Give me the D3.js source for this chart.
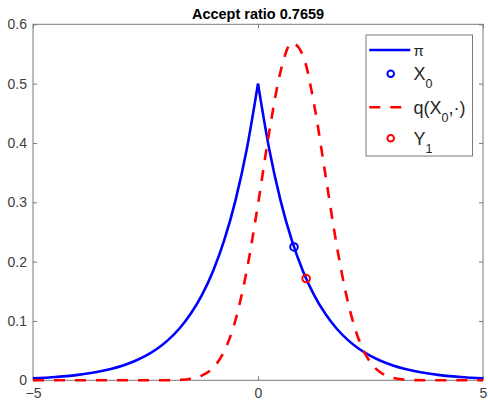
<!DOCTYPE html>
<html>
<head>
<meta charset="utf-8">
<script src="https://cdn.jsdelivr.net/npm/d3@7"></script>
<style>
  body { margin: 0; background: #fff; }
  svg { display: block; font-family: "Liberation Sans", Arial, sans-serif; }
  .axis text { fill: #404040; font-size: 14px; }
  .axis line { stroke: #7a7a7a; }
</style>
</head>
<body>
<svg width="488" height="401"></svg>
<script>
// values
var xs = [-5, -4.75, -4.5, -4.25, -4, -3.75, -3.5, -3.25, -3, -2.75, -2.5, -2.25,
          -2, -1.75, -1.5, -1.25, -1, -0.75, -0.5, -0.25, 0, 0.25, 0.5, 0.75,
          1, 1.25, 1.5, 1.75, 2, 2.25, 2.5, 2.75, 3, 3.25, 3.5, 3.75,
          4, 4.25, 4.5, 4.75, 5];
var piVals = [0.0034, 0.0043, 0.0056, 0.0071, 0.0092, 0.0118, 0.0151, 0.0194, 0.0249, 0.0320, 0.0410, 0.0527,
              0.0677, 0.0869, 0.1116, 0.1433, 0.1839, 0.2362, 0.3033, 0.3894, 0.5, 0.3894, 0.3033, 0.2362,
              0.1839, 0.1433, 0.1116, 0.0869, 0.0677, 0.0527, 0.0410, 0.0320, 0.0249, 0.0194, 0.0151, 0.0118,
              0.0092, 0.0071, 0.0056, 0.0043, 0.0034];
var qVals = [0, 0, 0, 0, 0, 0, 0, 0, 0, 0, 0, 0,
             0.0002, 0.0007, 0.0026, 0.0078, 0.0209, 0.0491, 0.1016, 0.1851, 0.2966, 0.4186, 0.5200, 0.5686,
             0.5472, 0.4636, 0.3457, 0.2270, 0.1312, 0.0667, 0.0299, 0.0118, 0.0041, 0.0012, 0.0003, 0,
             0, 0, 0, 0, 0];
var x0 = [0.8], x0Val = [0.2247];
var y1 = [1.07], y1Val = [0.1715];
var xTicks = [-5, 0, 5];
var yTicks = [0, 0.1, 0.2, 0.3, 0.4, 0.5, 0.6];
var title = "Accept ratio 0.7659";

var margin = {top: 24.3, right: 5, bottom: 20.7, left: 33},
    width = 488 - margin.left - margin.right,
    height = 401 - margin.top - margin.bottom;

var svg = d3.select("svg");
var g = svg.append("g").attr("transform", "translate(" + margin.left + "," + margin.top + ")");

var xScale = d3.scaleLinear().domain([-5, 5]).range([0, width]);
var yScale = d3.scaleLinear().domain([0, 0.6]).range([height, 0]);

// axes, ticks pointing inward
g.append("g").attr("class", "axis")
    .attr("transform", "translate(0," + height + ")")
    .call(d3.axisBottom(xScale).tickValues(xTicks).tickSize(-4).tickPadding(8).tickFormat(d3.format("d")));
g.append("g").attr("class", "axis")
    .call(d3.axisLeft(yScale).tickValues(yTicks).tickSize(-4).tickPadding(6)
        .tickFormat(function (d) { return d === 0 ? "0" : d3.format(".1f")(d); }));
g.append("g").attr("class", "axis")
    .call(d3.axisTop(xScale).tickValues(xTicks).tickSize(-4).tickFormat(""));
g.append("g").attr("class", "axis")
    .attr("transform", "translate(" + width + ",0)")
    .call(d3.axisRight(yScale).tickValues(yTicks).tickSize(-4).tickFormat(""));
g.selectAll(".axis .domain").remove();
g.append("rect")
    .attr("width", width).attr("height", height)
    .attr("fill", "none").attr("stroke", "#7a7a7a").attr("stroke-width", 1);

var pts = xs.map(function (x, i) { return {x: x, pi: piVals[i], q: qVals[i]}; });

var piLine = d3.line()
    .x(function (d) { return xScale(d.x); })
    .y(function (d) { return yScale(d.pi); })
    .curve(d3.curveMonotoneX);
var qLine = d3.line()
    .x(function (d) { return xScale(d.x); })
    .y(function (d) { return yScale(d.q); })
    .curve(d3.curveMonotoneX);

// pi has a kink at 0, so draw the two halves separately
[pts.filter(function (d) { return d.x <= 0; }), pts.filter(function (d) { return d.x >= 0; })]
    .forEach(function (half) {
        g.append("path").datum(half)
            .attr("d", piLine)
            .attr("fill", "none").attr("stroke", "#0000ff").attr("stroke-width", 2.6);
    });

g.selectAll(".x0").data(x0).enter().append("circle")
    .attr("cx", function (d) { return xScale(d); })
    .attr("cy", function (d, i) { return yScale(x0Val[i]); })
    .attr("r", 3.8).attr("fill", "none").attr("stroke", "#0000ff").attr("stroke-width", 2);

g.append("path").datum(pts)
    .attr("d", qLine)
    .attr("fill", "none").attr("stroke", "#ff0000").attr("stroke-width", 2.6)
    .attr("stroke-dasharray", "11,10");

g.selectAll(".y1").data(y1).enter().append("circle")
    .attr("cx", function (d) { return xScale(d); })
    .attr("cy", function (d, i) { return yScale(y1Val[i]); })
    .attr("r", 3.8).attr("fill", "none").attr("stroke", "#ff0000").attr("stroke-width", 2);

// title
svg.append("text")
    .attr("x", margin.left + width / 2).attr("y", 18.7)
    .attr("text-anchor", "middle")
    .style("font-weight", "bold").style("font-size", "14.5px").style("fill", "#000")
    .text(title);

// legend
var leg = svg.append("g");
leg.append("rect")
    .attr("x", 366).attr("y", 35).attr("width", 106.5).attr("height", 121)
    .attr("fill", "#fff").attr("stroke", "#7a7a7a").attr("stroke-width", 1);

leg.append("line").attr("x1", 369.3).attr("x2", 410.3).attr("y1", 50).attr("y2", 50)
    .attr("stroke", "#0000ff").attr("stroke-width", 2.6);
leg.append("circle").attr("cx", 390.7).attr("cy", 73.7).attr("r", 3.3)
    .attr("fill", "none").attr("stroke", "#0000ff").attr("stroke-width", 2);
leg.append("line").attr("x1", 369.3).attr("x2", 410.3).attr("y1", 107.3).attr("y2", 107.3)
    .attr("stroke", "#ff0000").attr("stroke-width", 2.6).attr("stroke-dasharray", "11,10");
leg.append("circle").attr("cx", 390.7).attr("cy", 138.3).attr("r", 3.3)
    .attr("fill", "none").attr("stroke", "#ff0000").attr("stroke-width", 2);

var txt = leg.append("g").style("font-size", "18px").style("fill", "#262626");
txt.append("text").attr("x", 413.5).attr("y", 56).style("font-size", "15px").text("π");

var t1 = txt.append("text").attr("x", 413.5).attr("y", 80);
t1.append("tspan").text("X");
t1.append("tspan").attr("dy", 8).style("font-size", "12.5px").text("0");

var t2 = txt.append("text").attr("x", 413.5).attr("y", 113.8);
t2.append("tspan").text("q(X");
t2.append("tspan").attr("dy", 8).style("font-size", "12.5px").text("0");
t2.append("tspan").attr("dy", -8).text(",·)");

var t3 = txt.append("text").attr("x", 413.5).attr("y", 145);
t3.append("tspan").text("Y");
t3.append("tspan").attr("dy", 8).style("font-size", "12.5px").text("1");
</script>
</body>
</html>
